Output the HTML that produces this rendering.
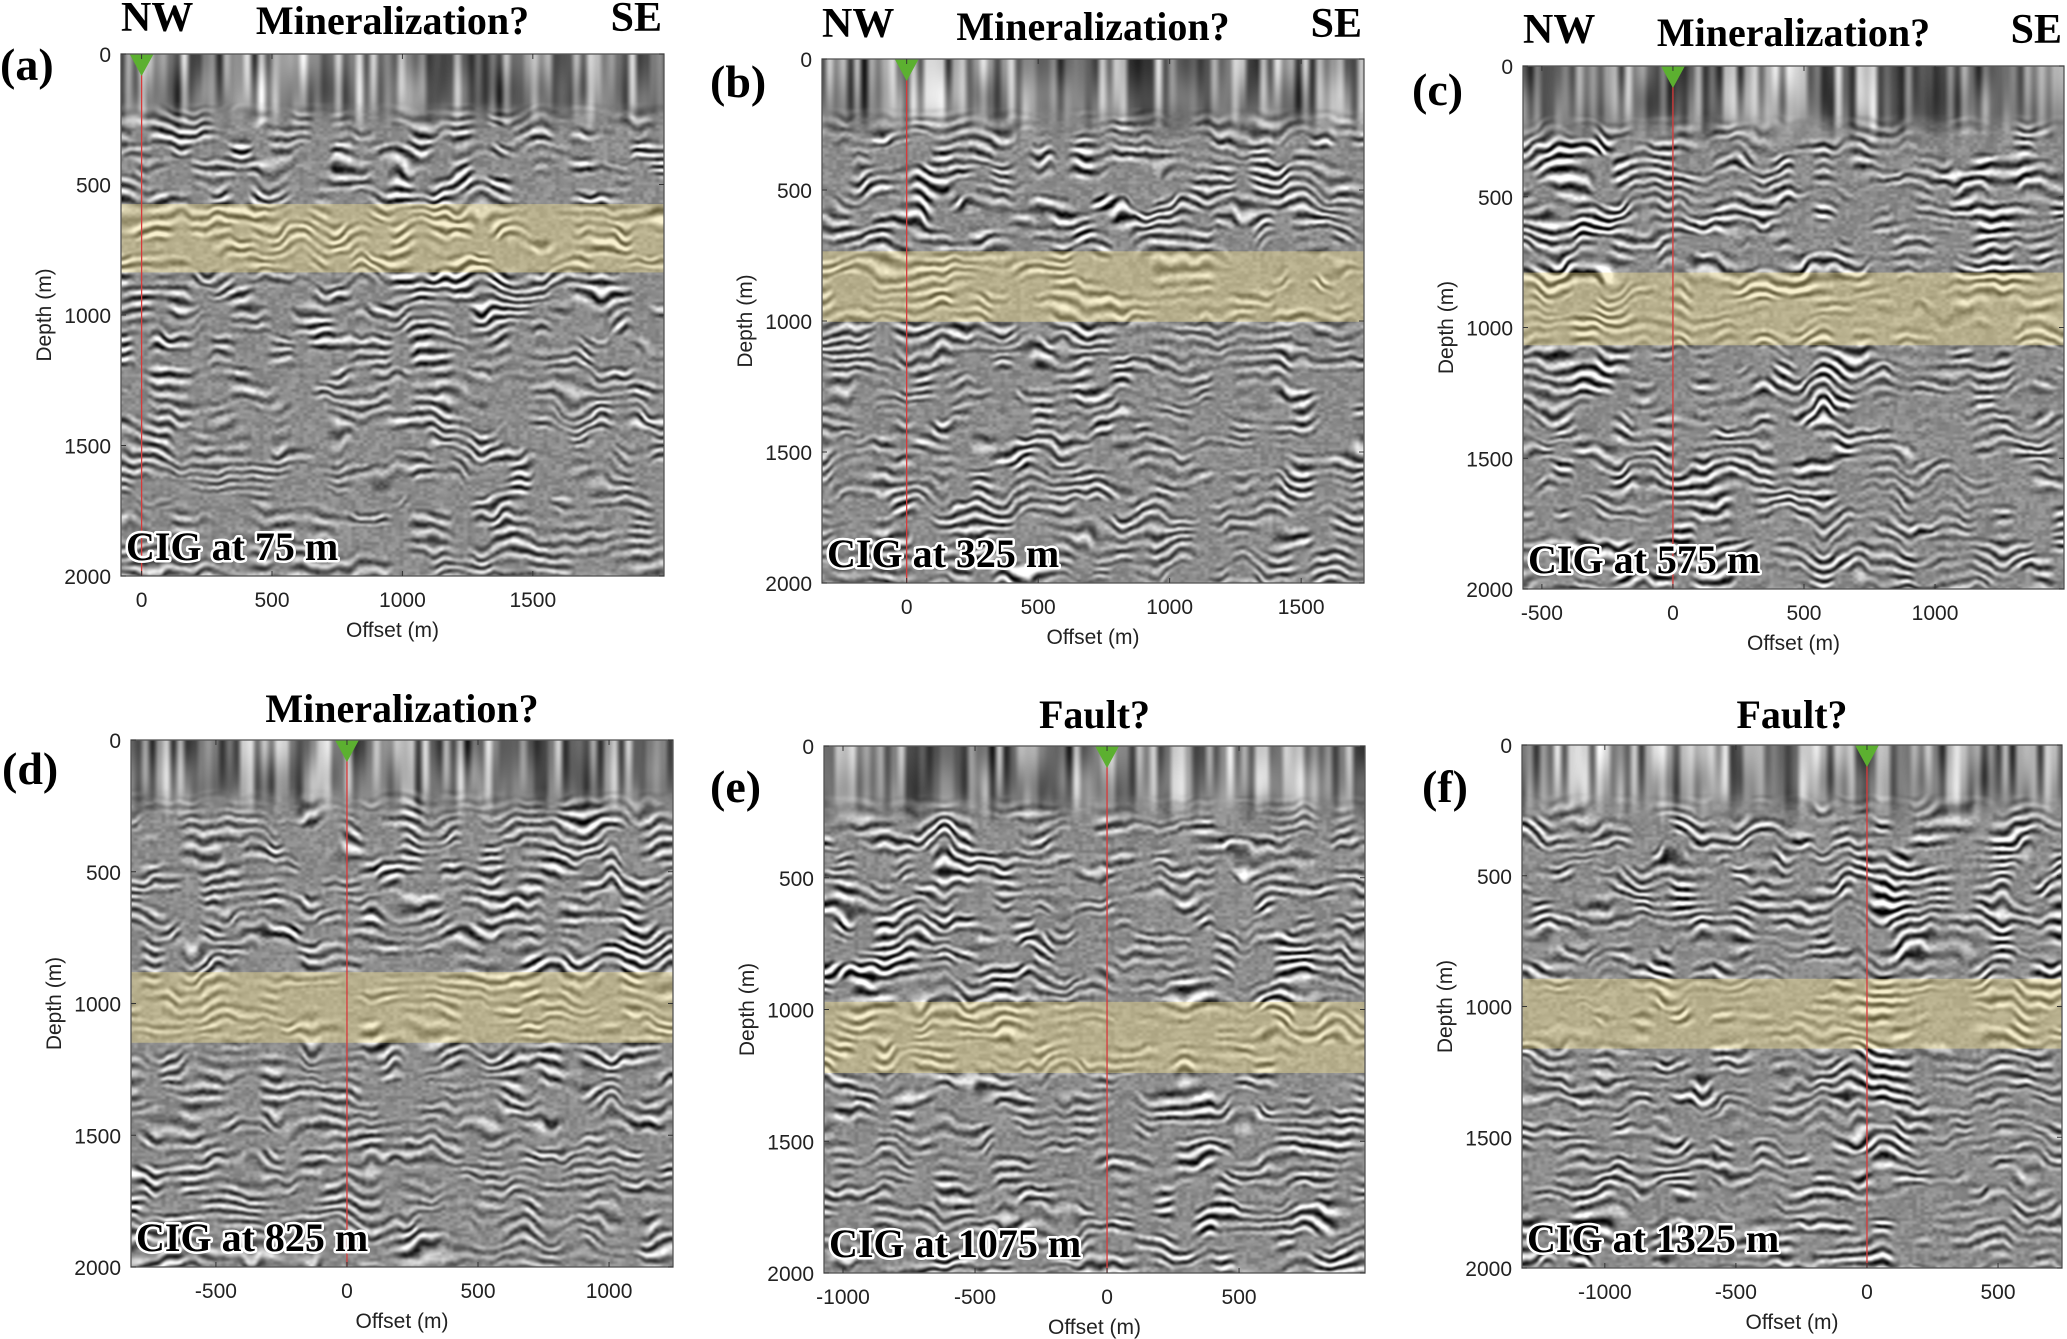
<!DOCTYPE html>
<html><head><meta charset="utf-8">
<style>
html,body{margin:0;padding:0;background:#fff;}
#wrap{position:relative;width:2067px;height:1339px;}
#bg{position:absolute;left:0;top:0;}
#fig{position:absolute;left:0;top:0;display:block;}
.tick{font-family:"Liberation Sans",sans-serif;font-size:21px;fill:#222;}
.axl{font-family:"Liberation Sans",sans-serif;font-size:21px;fill:#222;}
.ser{font-family:"Liberation Serif",serif;font-weight:bold;fill:#000;}
.cig{font-family:"Liberation Serif",serif;font-weight:bold;font-size:40px;fill:#000;stroke:#fff;stroke-width:5px;paint-order:stroke;stroke-linejoin:round;}
</style></head>
<body>
<div id="wrap">
<canvas id="bg" width="2067" height="1339"></canvas>
<svg id="fig" width="2067" height="1339" viewBox="0 0 2067 1339" xmlns="http://www.w3.org/2000/svg"></svg>
</div>
<script>
// ---- data ----
const panelLetters = ["(a)","(b)","(c)","(d)","(e)","(f)"];
const cigLocations = [75, 325, 575, 825, 1075, 1325];
const offsetMin = [-79, -322, -572, -824, -1072, -1316];
const offsetMax = [2003, 1739, 1492, 1244, 977, 744];
const bandTopDepth = [575, 734, 790, 881, 971, 894];
const bandBottomDepth = [837, 1003, 1068, 1149, 1241, 1161];
const panelTitles = ["Mineralization?","Mineralization?","Mineralization?","Mineralization?","Fault?","Fault?"];
const depthTicks = [0, 500, 1000, 1500, 2000];
const depthMax = 2000;

// ---- layout (pixels) ----
const rects = [
  {l:121,r:664,t:54,b:576},
  {l:822,r:1364,t:59,b:583},
  {l:1523,r:2064,t:66,b:589},
  {l:131,r:673,t:740,b:1267},
  {l:824,r:1365,t:746,b:1273},
  {l:1522,r:2062,t:745,b:1268}
];
const letterPos = [[0,80],[710,97],[1412,105],[2,784],[710,802],[1422,802]];
const titleBase = [34,40,46,722,728,728];
const hasDir = [true,true,true,false,false,false];

// ---- seeded texture generator (wrapping value noise) ----
function prng(seed){let s=seed>>>0;return()=>{s=(s*1664525+1013904223)>>>0;return s/4294967296;};}
function makeNoise(seed,cx,cy){
  const r=prng(seed);const G=64;const g=new Float32Array(G*G);
  for(let k=0;k<g.length;k++)g[k]=r();
  return (x,y)=>{const fx=x/cx,fy=y/cy;const ix=Math.floor(fx),iy=Math.floor(fy);let tx=fx-ix,ty=fy-iy;
    tx=tx*tx*(3-2*tx);ty=ty*ty*(3-2*ty);
    const x0=((ix%G)+G)%G,x1=(x0+1)%G,y0=((iy%G)+G)%G,y1=(y0+1)%G;
    const a=g[y0*G+x0],b=g[y0*G+x1],c=g[y1*G+x0],d=g[y1*G+x1];
    return a+(b-a)*tx+(c-a)*ty+(a-b-c+d)*tx*ty;};
}
const cv=document.getElementById('bg');const ctx=cv.getContext('2d');
ctx.fillStyle='#fff';ctx.fillRect(0,0,2067,1339);
rects.forEach((R,i)=>{
  const w=R.r-R.l,h=R.b-R.t;
  const ph=makeNoise(i*101+1,30,45), ph2=makeNoise(i*101+2,12,20);
  const am=makeNoise(i*101+3,20,16), col=makeNoise(i*101+4,40,250);
  const fine=makeNoise(i*101+7,4,3);
  const top=makeNoise(i*101+5,7,120), top2=makeNoise(i*101+6,20,40);
  const img=ctx.createImageData(w,h);const D=img.data;
  const topH=h*0.09;
  for(let y=0;y<h;y++){for(let x=0;x<w;x++){
    const phase=ph(x,y)*12+ph2(x,y)*4;
    let a=(am(x,y)-0.25)*1.8; a=a<0?0:a>1?1:a;
    a*=0.55+col(x,y)*0.8; if(y<h*0.45)a*=1.15;
    let v=140+105*a*Math.sin(2*Math.PI*y/12+phase)+(fine(x,y)-0.5)*40;
    if(y<topH*1.7){
      const wgt=y<topH?1:1-(y-topH)/(topH*0.7);
      const tv=135+(top(x,y)-0.5)*180+(top2(x,y)-0.5)*70;
      v=v*(1-wgt)+tv*wgt;
    }
    v=v<0?0:v>255?255:v;
    const k=(y*w+x)*4;D[k]=v;D[k+1]=v;D[k+2]=v;D[k+3]=255;
  }}
  ctx.putImageData(img,R.l,R.t);
});

const NS="http://www.w3.org/2000/svg";
const svg=document.getElementById('fig');
function mk(tag,attrs,parent){const e=document.createElementNS(NS,tag);for(const k in attrs)e.setAttribute(k,attrs[k]);(parent||svg).appendChild(e);return e;}

for(let i=0;i<6;i++){
  const R=rects[i];
  const xS=v=>R.l+(v-offsetMin[i])/(offsetMax[i]-offsetMin[i])*(R.r-R.l);
  const yS=d=>R.t+d/depthMax*(R.b-R.t);
  const g=mk('g',{});
  
  
  const band=mk('rect',{x:R.l,y:yS(bandTopDepth[i]),width:R.r-R.l,height:yS(bandBottomDepth[i])-yS(bandTopDepth[i]),fill:'rgba(240,222,140,0.42)'},g);
  
  
  const x0=xS(0);
  const ln=mk('line',{x1:x0,x2:x0,y1:R.t,y2:R.b,stroke:'#d83a3a','stroke-width':1.3},g);
  
  
  const tri=mk('polygon',{points:`${x0-12},${R.t} ${x0+12},${R.t} ${x0},${R.t+22}`,fill:'#5cb030'},g);
  
  
  const box=mk('rect',{x:R.l,y:R.t,width:R.r-R.l,height:R.b-R.t,fill:'none',stroke:'#555','stroke-width':1.3},g);
  
  
  depthTicks.forEach(d=>{
    const y=yS(d);
    mk('line',{x1:R.l,x2:R.l+5,y1:y,y2:y,stroke:'#333'},g);
    mk('line',{x1:R.r,x2:R.r-5,y1:y,y2:y,stroke:'#333'},g);
    const t=mk('text',{x:R.l-10,y:y+8,'text-anchor':'end',class:'tick'},g);
    t.textContent=d;
    
    
  });
  for(let v=Math.ceil(offsetMin[i]/500)*500; v<=offsetMax[i]-30; v+=500){
    const x=xS(v);
    mk('line',{x1:x,x2:x,y1:R.b,y2:R.b-5,stroke:'#333'},g);
    mk('line',{x1:x,x2:x,y1:R.t,y2:R.t+5,stroke:'#333'},g);
    const t=mk('text',{x:x,y:R.b+31,'text-anchor':'middle',class:'tick'},g);
    t.textContent=v;
    
    
  }
  const yl=mk('text',{x:0,y:0,'text-anchor':'middle',class:'axl',transform:`translate(${R.l-70},${(R.t+R.b)/2}) rotate(-90)`},g);
  yl.textContent='Depth (m)';
  
  
  const xl=mk('text',{x:(R.l+R.r)/2,y:R.b+61,'text-anchor':'middle',class:'axl'},g);
  xl.textContent='Offset (m)';
  
  
  const cg=mk('text',{x:R.l+5,y:R.b-16,class:'cig'},g);
  cg.textContent='CIG at '+cigLocations[i]+' m';
  
  
  const pl=mk('text',{x:letterPos[i][0],y:letterPos[i][1],class:'ser','font-size':'46'},g);
  pl.textContent=panelLetters[i];
  
  
  const tt=mk('text',{x:(R.l+R.r)/2,y:titleBase[i],'text-anchor':'middle',class:'ser','font-size':'40'},g);
  tt.textContent=panelTitles[i];
  
  
  if(hasDir[i]){
    const nw=mk('text',{x:R.l,y:titleBase[i]-3,class:'ser','font-size':'42'},g);
    nw.textContent='NW';
    
    
    const se=mk('text',{x:R.r-2,y:titleBase[i]-3,'text-anchor':'end',class:'ser','font-size':'42'},g);
    se.textContent='SE';
    
    
  }
}
</script>
</body></html>
